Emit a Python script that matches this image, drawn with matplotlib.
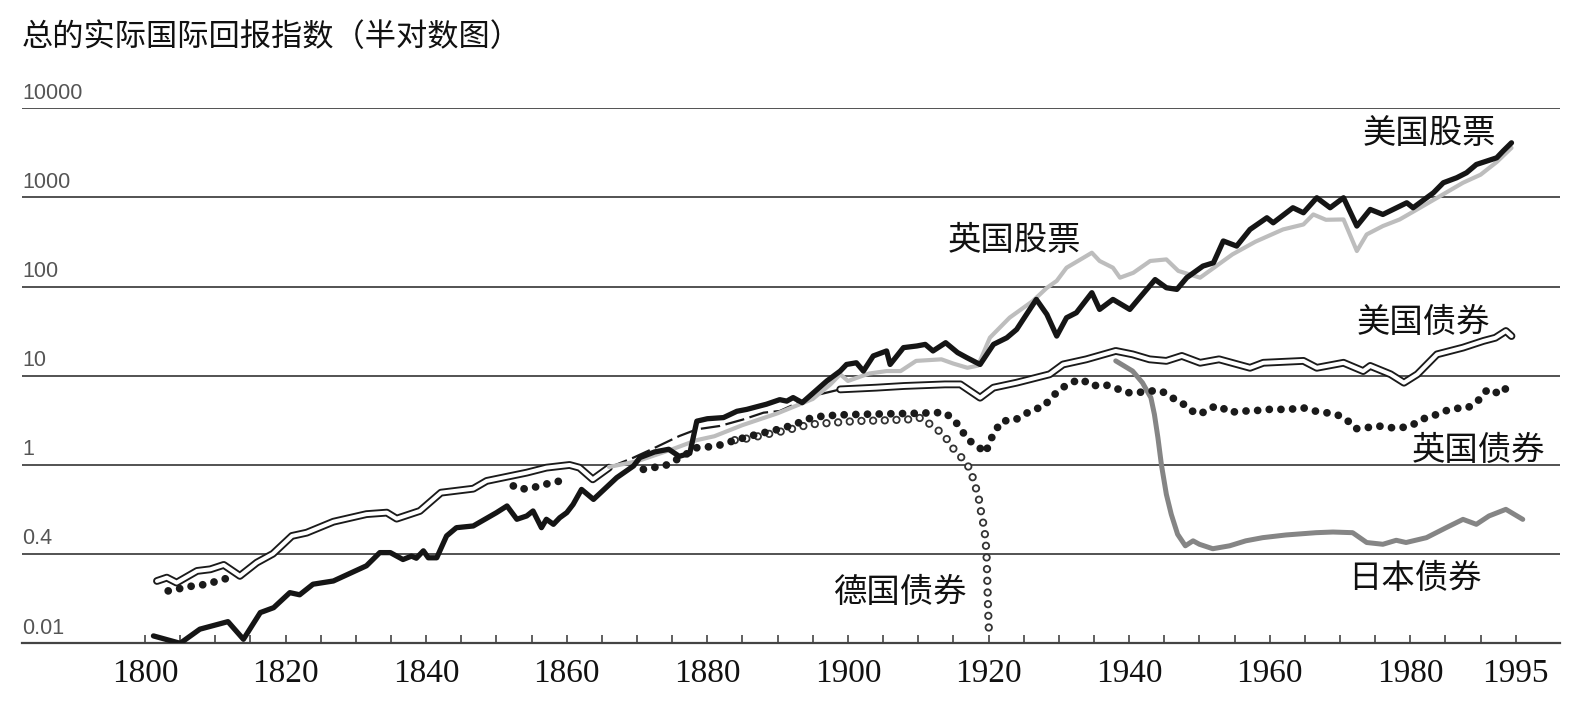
import numpy as np
import matplotlib
matplotlib.use("Agg")
import matplotlib.pyplot as plt

plt.rcParams['font.family'] = ['Noto Sans CJK SC', 'DejaVu Sans']
plt.rcParams['lines.scale_dashes'] = False

# values (index level)
us_stock_years = [1801.2, 1805.0, 1807.8, 1811.8, 1814.0, 1816.4, 1818.3, 1820.6, 1822.0, 1823.9,
                  1826.8, 1831.5, 1833.4, 1834.9, 1836.7, 1837.9, 1838.6, 1839.6, 1840.3, 1841.5,
                  1842.9, 1844.3, 1846.7, 1850.0, 1851.5, 1852.9, 1854.3, 1855.2, 1856.4, 1857.1,
                  1858.1, 1859.0, 1860.0, 1860.9, 1862.1, 1863.8, 1867.1, 1869.5, 1870.4, 1872.5,
                  1874.5, 1876.0, 1877.5, 1878.5, 1880.0, 1882.3, 1884.2, 1885.6, 1887.5, 1888.4,
                  1890.3, 1891.3, 1892.2, 1893.5, 1897.0, 1898.9, 1899.8, 1901.2, 1902.2, 1903.6,
                  1905.5, 1906.0, 1907.9, 1909.8, 1911.0, 1912.1, 1913.9, 1915.6, 1916.9, 1918.8,
                  1920.7, 1922.6, 1924.0, 1925.4, 1926.8, 1928.3, 1929.7, 1931.1, 1932.5, 1934.7,
                  1935.8, 1937.7, 1940.1, 1941.5, 1943.7, 1945.3, 1946.8, 1948.2, 1950.5, 1952.0,
                  1953.4, 1955.3, 1957.2, 1959.6, 1960.5, 1963.3, 1964.8, 1966.7, 1968.6, 1970.5,
                  1972.4, 1974.3, 1976.1, 1979.5, 1980.4, 1983.3, 1984.7, 1986.6, 1988.0, 1989.4,
                  1992.3, 1993.2, 1994.4]
us_stock_vals = [0.0121, 0.0100, 0.0144, 0.0175, 0.0111, 0.0221, 0.0251, 0.037, 0.035, 0.046,
                 0.050, 0.074, 0.104, 0.104, 0.087, 0.095, 0.090, 0.109, 0.091, 0.091,
                 0.160, 0.198, 0.207, 0.292, 0.347, 0.246, 0.268, 0.305, 0.198, 0.246,
                 0.216, 0.256, 0.292, 0.361, 0.532, 0.411, 0.72, 0.975, 1.21, 1.4,
                 1.5, 1.25, 1.35, 3.1, 3.3, 3.4, 4.0, 4.2, 4.6, 4.8,
                 5.4, 5.2, 5.7, 5.0, 8.75, 11.3, 13.4, 14.0, 11.3, 16.7,
                 19.0, 13.4, 20.7, 21.6, 22.5, 19.0, 23.5, 18.2, 16.0, 13.4,
                 22.5, 26.7, 33.1, 48.8, 71.9, 48.8, 27.9, 44.8, 51.0, 85.5,
                 55.5, 71.9, 55.5, 75.1, 120, 97.2, 93.1, 126, 170, 185,
                 325, 285, 438, 592, 520, 767, 674, 993, 767, 993,
                 478, 734, 645, 872, 767, 1130, 1462, 1664, 1893, 2344,
                 2786, 3311, 4103]

uk_stock_years = [1866, 1870, 1875, 1878.5, 1881, 1885, 1890, 1895, 1897.5, 1898.9,
                  1900.0, 1903.0, 1905.5, 1907.5, 1909.7, 1913.3, 1915.0, 1917.0, 1918.5, 1920.2,
                  1923.0, 1926.3, 1928.3, 1929.7, 1931.1, 1933.1, 1934.7, 1935.8, 1937.7, 1938.7,
                  1940.6, 1943.0, 1945.3, 1947.0, 1950.1, 1954.7, 1958.0, 1961.9, 1964.8, 1966.2,
                  1968.0, 1970.5, 1972.4, 1973.8, 1976.1, 1978.5, 1981.8, 1987.5, 1990.0, 1992.3,
                  1994.4]
uk_stock_vals = [0.95, 1.1, 1.5, 1.9, 2.1, 2.8, 3.8, 5.5, 8.0, 10.4,
                 8.75, 10.6, 11.3, 11.3, 14.7, 15.3, 13.7, 12.3, 13.0, 26.8,
                 44.9, 69, 97, 116, 163, 202, 240, 194, 163, 126,
                 143, 194, 202, 150, 126, 230, 320, 438, 498, 645,
                 562, 567, 251, 385, 478, 567, 801, 1462, 1800, 2500,
                 3600]

us_bond_years = [1801.7, 1803.1, 1804.5, 1807.4, 1809.3, 1811.2, 1813.5, 1815.9, 1818.2, 1820.9,
                 1823.0, 1826.8, 1831.5, 1834.4, 1835.8, 1839.1, 1842.1, 1846.7, 1848.6, 1854.3,
                 1857.1, 1860.4, 1861.8, 1863.7, 1866.0, 1869.5, 1872.0, 1876.0, 1878.5, 1881.8,
                 1885.0, 1888.0, 1890.3, 1895.0, 1898.9, 1904.0, 1908.0, 1913.8, 1916.0, 1918.8,
                 1920.7, 1924.0, 1928.7, 1930.6, 1933.9, 1938.1, 1940.5, 1942.9, 1945.3, 1947.5,
                 1950.1, 1952.8, 1957.2, 1959.1, 1964.8, 1966.7, 1970.5, 1973.3, 1974.3, 1977.2,
                 1979.1, 1981.0, 1983.8, 1987.5, 1990.4, 1992.1, 1993.6, 1994.4]
us_bond_vals = [0.050, 0.0545, 0.0479, 0.0648, 0.0676, 0.0757, 0.0570, 0.0803, 0.101, 0.160,
                0.174, 0.231, 0.281, 0.292, 0.250, 0.305, 0.489, 0.542, 0.662, 0.820,
                0.933, 1.0, 0.933, 0.690, 0.933, 1.21, 1.49, 2.11, 2.51, 2.74,
                3.22, 3.86, 4.03, 5.94, 7.04, 7.36, 7.69, 8.01, 8.01, 5.68,
                7.36, 8.37, 10.4, 13.4, 15.3, 19.0, 17.4, 15.3, 14.7, 16.7,
                14.0, 15.3, 12.3, 14.0, 14.7, 12.3, 14.0, 11.3, 12.9, 10.4,
                8.37, 10.4, 17.4, 20.7, 24.6, 26.7, 31.8, 27.9]
# stretch of the US bond line that is printed as a single dashed line
us_bond_dash_span = (1866.0, 1898.9)

uk_bond_years = [1803.3, 1806.8, 1808.7, 1810.3, 1812.0, 1830.0, 1852.4, 1853.3, 1855.2, 1856.9,
                 1858.5, 1860.2, 1865.0, 1870.9, 1872.3, 1874.2, 1876.5, 1878.5, 1880.0, 1881.9,
                 1884.0, 1887.0, 1890.0, 1892.5, 1893.5, 1895.2, 1896.8, 1898.7, 1902.0, 1906.0,
                 1910.0, 1912.4, 1913.8, 1915.2, 1916.2, 1917.0, 1918.4, 1919.6, 1920.2, 1921.1,
                 1921.9, 1923.7, 1924.7, 1926.4, 1927.8, 1929.0, 1930.2, 1931.6, 1933.3, 1934.7,
                 1936.4, 1938.0, 1939.5, 1941.1, 1943.0, 1944.6, 1946.1, 1947.5, 1948.7, 1950.1,
                 1951.5, 1952.9, 1954.3, 1955.7, 1957.6, 1959.5, 1961.1, 1962.8, 1964.7, 1966.4,
                 1968.0, 1969.5, 1970.9, 1972.2, 1973.8, 1975.4, 1977.1, 1978.7, 1980.1, 1981.6,
                 1983.2, 1984.9, 1986.6, 1988.2, 1989.6, 1990.8, 1991.8, 1992.5, 1993.9]
uk_bond_vals = [0.0387, 0.0440, 0.0458, 0.050, 0.0545, np.nan, 0.582, 0.532, 0.557, 0.606,
                0.650, 0.679, np.nan, 0.893, 0.933, 1.0, 1.25, 1.56, 1.59, 1.68,
                1.9, 2.2, 2.5, 2.85, 3.11, 3.45, 3.54, 3.64, 3.7, 3.75,
                3.8, 3.86, 3.86, 3.14, 2.44, 1.94, 1.63, 1.37, 1.86, 2.51,
                3.12, 3.16, 3.54, 4.20, 4.47, 5.78, 7.04, 8.37, 9.12, 7.69,
                8.01, 7.36, 6.47, 6.47, 6.76, 6.76, 5.68, 4.99, 4.11, 3.69,
                4.39, 4.58, 3.86, 4.03, 4.03, 4.20, 4.20, 4.20, 4.39, 4.03,
                3.86, 3.69, 3.25, 2.55, 2.62, 2.74, 2.62, 2.62, 2.74, 3.25,
                3.54, 4.03, 4.31, 4.39, 5.21, 6.76, 7.04, 6.19, 7.49]

de_bond_years = [1883.9, 1886.1, 1888.0, 1890.8, 1894.6, 1897.9, 1901.2, 1905.0, 1908.8, 1910.5,
                 1911.7, 1913.1, 1914.3, 1915.2, 1916.4, 1917.4, 1917.9, 1918.4, 1918.8, 1919.0,
                 1919.4, 1919.7, 1919.8, 1919.9, 1920.0, 1920.1]
de_bond_vals = [1.9, 2.0, 2.17, 2.40, 2.85, 2.98, 3.11, 3.16, 3.25, 3.39,
                2.85, 2.36, 1.86, 1.44, 1.16, 0.893, 0.662, 0.489, 0.362, 0.268,
                0.198, 0.109, 0.0594, 0.0311, 0.0171, 0.0113]

jp_bond_years = [1938.1, 1940.5, 1941.9, 1943.1, 1943.6, 1944.1, 1944.6, 1945.3, 1946.0, 1946.9,
                 1948.0, 1949.1, 1950.0, 1951.9, 1954.3, 1956.6, 1959.0, 1962.3, 1966.6, 1969.0,
                 1971.8, 1973.8, 1976.1, 1978.0, 1979.4, 1982.3, 1985.1, 1987.5, 1989.4, 1991.2,
                 1993.6, 1996.0]
jp_bond_vals = [14.7, 11.3, 8.37, 5.68, 3.69, 2.02, 1.0, 0.468, 0.279, 0.167,
                0.124, 0.141, 0.129, 0.115, 0.124, 0.141, 0.153, 0.164, 0.174, 0.177,
                0.174, 0.135, 0.129, 0.143, 0.135, 0.153, 0.198, 0.2455, 0.216, 0.268,
                0.318, 0.2455]

y_ticks = [0.01, 0.1, 1, 10, 100, 1000, 10000]
y_tick_labels = ["0.01", "0.4", "1", "10", "100", "1000", "10000"]
x_label_years = [1800, 1820, 1840, 1860, 1880, 1900, 1920, 1940, 1960, 1980, 1995]

title = "总的实际国际回报指数（半对数图）"
series_labels = {
    "美国股票": (1429, 133),
    "英国股票": (1014, 240),
    "美国债券": (1423, 322),
    "英国债券": (1478, 450),
    "日本债券": (1415, 578),
    "德国债券": (900, 592),
}

W, H = 1592, 719
fig = plt.figure(figsize=(W / 100, H / 100), dpi=100)
ax = fig.add_axes([22 / W, 1 - 643.3 / H, (1560 - 22) / W, 535 / H])
ax.set_yscale("log")
ax.set_xlim(1782.5, 2001.3)
ax.set_ylim(0.01, 10000)

# horizontal rules + their labels
for t, lab in zip(y_ticks, y_tick_labels):
    if t > 0.01:
        ax.axhline(t, color="#444444", lw=1.3, zorder=1)
    ax.annotate(lab, xy=(0, t), xycoords=("axes fraction", "data"),
                xytext=(0, 7), textcoords="offset points", ha="left", va="baseline",
                fontsize=15.5, color="#555555", family=["Liberation Sans", "DejaVu Sans"],
                annotation_clip=False)

# Japanese bonds
ax.plot(jp_bond_years, jp_bond_vals, color="#858585", lw=3.6,
        solid_joinstyle="round", solid_capstyle="round", zorder=2)

# German bonds: hollow rings
ax.plot(de_bond_years, de_bond_vals, color="#333333", lw=6.0, linestyle=(0, (0.01, 8.4)),
        dash_capstyle="round", zorder=3)
ax.plot(de_bond_years, de_bond_vals, color="white", lw=3.4, linestyle=(0, (0.01, 8.4)),
        dash_capstyle="round", zorder=3.1)

# UK bonds: filled dots
ax.plot(uk_bond_years, uk_bond_vals, color="#1a1a1a", lw=5.6, linestyle=(0, (0.01, 8.4)),
        dash_capstyle="round", zorder=3.5)

# US bonds: double line, dashed in the middle stretch
yrs = np.array(us_bond_years)
vals = np.array(us_bond_vals)
lo, hi = us_bond_dash_span
for m in [yrs <= lo, yrs >= hi]:
    ax.plot(yrs[m], vals[m], color="#1a1a1a", lw=5.6, solid_joinstyle="round",
            solid_capstyle="round", zorder=4)
    ax.plot(yrs[m], vals[m], color="white", lw=2.9, solid_joinstyle="round",
            solid_capstyle="round", zorder=4.1)
m = (yrs >= lo) & (yrs <= hi)
ax.plot(yrs[m], vals[m], color="#1a1a1a", lw=1.6, linestyle=(0, (14, 4)), zorder=4)

# UK stocks
ax.plot(uk_stock_years, uk_stock_vals, color="#bdbdbd", lw=3.0,
        solid_joinstyle="round", solid_capstyle="round", zorder=5)

# US stocks
ax.plot(us_stock_years, us_stock_vals, color="#151515", lw=3.8,
        solid_joinstyle="round", solid_capstyle="round", zorder=6)

for s in ["left", "right", "top"]:
    ax.spines[s].set_visible(False)
ax.spines["bottom"].set_color("#444444")
ax.spines["bottom"].set_linewidth(1.6)
ax.set_yticks([])
ax.minorticks_off()
ax.set_xticks(x_label_years)
ax.set_xticklabels([str(y) for y in x_label_years],
                   family=["Liberation Serif", "DejaVu Serif"], fontsize=24, color="#111111")
ax.set_xticks(np.arange(1800, 1996, 5), minor=True)
ax.tick_params(axis="x", which="both", direction="in", length=6, width=1.2,
               color="#444444", pad=11)
ax.tick_params(axis="y", which="both", left=False, labelleft=False)

fig.text(22 / W, 1 - 37 / H, title, ha="left", va="center", fontsize=22.5, color="#111111")
for lab, (px, py) in series_labels.items():
    fig.text(px / W, 1 - py / H, lab, ha="center", va="center", fontsize=24, color="#111111")

fig.savefig("out.png", dpi=100, facecolor="white")
